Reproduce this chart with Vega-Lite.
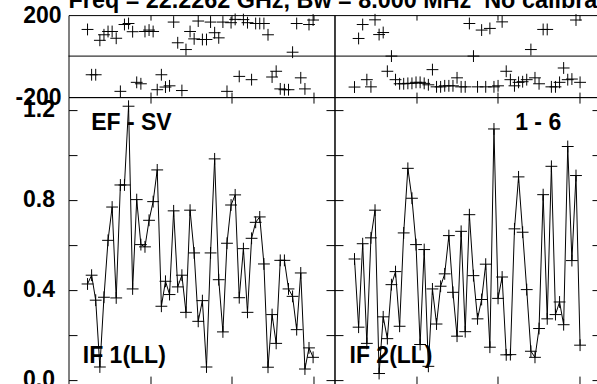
{
  "$schema": "https://vega.github.io/schema/vega-lite/v6.json",
  "padding": {"left": 13.5, "top": -10.9, "right": -131, "bottom": 0},
  "title": {"text": "Freq = 22.2262 GHz, Bw = 8.000 MHz\u00a0 No calibration applied", "anchor": "start", "frame": "group", "font": "Liberation Sans", "fontSize": 23.4, "fontWeight": "bold", "color": "black", "offset": -10},
  "data": {"values": [
    {"IF":"IF 1","t":0.233,"amp":0.425,"phase":130},
    {"IF":"IF 1","t":0.283,"amp":0.464,"phase":-91},
    {"IF":"IF 1","t":0.333,"amp":0.353,"phase":-91},
    {"IF":"IF 1","t":0.384,"amp":0.056,"phase":77},
    {"IF":"IF 1","t":0.434,"amp":0.366,"phase":104},
    {"IF":"IF 1","t":0.484,"amp":0.619,"phase":120},
    {"IF":"IF 1","t":0.534,"amp":0.767,"phase":120},
    {"IF":"IF 1","t":0.584,"amp":0.363,"phase":87},
    {"IF":"IF 1","t":0.635,"amp":0.865,"phase":-172},
    {"IF":"IF 1","t":0.685,"amp":0.865,"phase":154},
    {"IF":"IF 1","t":0.735,"amp":1.215,"phase":159},
    {"IF":"IF 1","t":0.785,"amp":0.403,"phase":119},
    {"IF":"IF 1","t":0.835,"amp":0.800,"phase":-128},
    {"IF":"IF 1","t":0.886,"amp":0.600,"phase":-135},
    {"IF":"IF 1","t":0.936,"amp":0.590,"phase":120},
    {"IF":"IF 1","t":0.986,"amp":0.708,"phase":127},
    {"IF":"IF 1","t":1.036,"amp":0.791,"phase":120},
    {"IF":"IF 1","t":1.086,"amp":0.932,"phase":-164},
    {"IF":"IF 1","t":1.137,"amp":0.326,"phase":-91},
    {"IF":"IF 1","t":1.187,"amp":0.437,"phase":-151},
    {"IF":"IF 1","t":1.237,"amp":0.378,"phase":-145},
    {"IF":"IF 1","t":1.287,"amp":0.750,"phase":166},
    {"IF":"IF 1","t":1.337,"amp":0.412,"phase":65},
    {"IF":"IF 1","t":1.388,"amp":0.464,"phase":-168},
    {"IF":"IF 1","t":1.438,"amp":0.299,"phase":32},
    {"IF":"IF 1","t":1.488,"amp":0.753,"phase":120},
    {"IF":"IF 1","t":1.538,"amp":0.563,"phase":84},
    {"IF":"IF 1","t":1.588,"amp":0.259,"phase":171},
    {"IF":"IF 1","t":1.639,"amp":0.351,"phase":81},
    {"IF":"IF 1","t":1.689,"amp":0.056,"phase":81},
    {"IF":"IF 1","t":1.739,"amp":0.563,"phase":166},
    {"IF":"IF 1","t":1.789,"amp":0.981,"phase":114},
    {"IF":"IF 1","t":1.839,"amp":0.444,"phase":89},
    {"IF":"IF 1","t":1.890,"amp":0.212,"phase":166},
    {"IF":"IF 1","t":1.940,"amp":0.606,"phase":-172},
    {"IF":"IF 1","t":1.990,"amp":0.776,"phase":163},
    {"IF":"IF 1","t":2.040,"amp":0.821,"phase":179},
    {"IF":"IF 1","t":2.090,"amp":0.364,"phase":-99},
    {"IF":"IF 1","t":2.141,"amp":0.582,"phase":178},
    {"IF":"IF 1","t":2.191,"amp":0.299,"phase":163},
    {"IF":"IF 1","t":2.241,"amp":0.628,"phase":-115},
    {"IF":"IF 1","t":2.291,"amp":0.699,"phase":159},
    {"IF":"IF 1","t":2.341,"amp":0.723,"phase":159},
    {"IF":"IF 1","t":2.392,"amp":0.514,"phase":159},
    {"IF":"IF 1","t":2.442,"amp":0.055,"phase":104},
    {"IF":"IF 1","t":2.492,"amp":0.289,"phase":-102},
    {"IF":"IF 1","t":2.542,"amp":0.161,"phase":-74},
    {"IF":"IF 1","t":2.592,"amp":0.530,"phase":-160},
    {"IF":"IF 1","t":2.643,"amp":0.530,"phase":-164},
    {"IF":"IF 1","t":2.693,"amp":0.403,"phase":-164},
    {"IF":"IF 1","t":2.743,"amp":0.370,"phase":19},
    {"IF":"IF 1","t":2.793,"amp":0.222,"phase":159},
    {"IF":"IF 1","t":2.843,"amp":0.474,"phase":-106},
    {"IF":"IF 1","t":2.894,"amp":0.047,"phase":-160},
    {"IF":"IF 1","t":2.944,"amp":0.141,"phase":154},
    {"IF":"IF 1","t":2.994,"amp":0.099,"phase":176},
    {"IF":"IF 2","t":0.245,"amp":0.536,"phase":-151},
    {"IF":"IF 2","t":0.295,"amp":0.233,"phase":86},
    {"IF":"IF 2","t":0.345,"amp":0.604,"phase":154},
    {"IF":"IF 2","t":0.396,"amp":0.161,"phase":-115},
    {"IF":"IF 2","t":0.446,"amp":0.630,"phase":-150},
    {"IF":"IF 2","t":0.496,"amp":0.753,"phase":177},
    {"IF":"IF 2","t":0.546,"amp":0.027,"phase":105},
    {"IF":"IF 2","t":0.596,"amp":0.279,"phase":115},
    {"IF":"IF 2","t":0.647,"amp":0.182,"phase":-74},
    {"IF":"IF 2","t":0.697,"amp":0.422,"phase":0},
    {"IF":"IF 2","t":0.747,"amp":0.480,"phase":-115},
    {"IF":"IF 2","t":0.797,"amp":0.237,"phase":-135},
    {"IF":"IF 2","t":0.847,"amp":0.652,"phase":-135},
    {"IF":"IF 2","t":0.898,"amp":0.939,"phase":-133},
    {"IF":"IF 2","t":0.948,"amp":0.806,"phase":-133},
    {"IF":"IF 2","t":0.998,"amp":0.600,"phase":-128},
    {"IF":"IF 2","t":1.048,"amp":0.156,"phase":-128},
    {"IF":"IF 2","t":1.098,"amp":0.578,"phase":-133},
    {"IF":"IF 2","t":1.149,"amp":0.059,"phase":-140},
    {"IF":"IF 2","t":1.199,"amp":0.403,"phase":-66},
    {"IF":"IF 2","t":1.249,"amp":0.247,"phase":-150},
    {"IF":"IF 2","t":1.299,"amp":0.415,"phase":-150},
    {"IF":"IF 2","t":1.349,"amp":0.470,"phase":-145},
    {"IF":"IF 2","t":1.400,"amp":0.640,"phase":-145},
    {"IF":"IF 2","t":1.450,"amp":0.388,"phase":-145},
    {"IF":"IF 2","t":1.500,"amp":0.193,"phase":-106},
    {"IF":"IF 2","t":1.550,"amp":0.659,"phase":-150},
    {"IF":"IF 2","t":1.600,"amp":0.213,"phase":-150},
    {"IF":"IF 2","t":1.651,"amp":0.733,"phase":159},
    {"IF":"IF 2","t":1.701,"amp":0.462,"phase":0},
    {"IF":"IF 2","t":1.751,"amp":0.270,"phase":-150},
    {"IF":"IF 2","t":1.801,"amp":0.356,"phase":127},
    {"IF":"IF 2","t":1.851,"amp":0.513,"phase":-150},
    {"IF":"IF 2","t":1.902,"amp":0.144,"phase":135},
    {"IF":"IF 2","t":1.952,"amp":1.114,"phase":-150},
    {"IF":"IF 2","t":2.002,"amp":0.361,"phase":-145},
    {"IF":"IF 2","t":2.052,"amp":0.456,"phase":167},
    {"IF":"IF 2","t":2.102,"amp":0.110,"phase":-74},
    {"IF":"IF 2","t":2.153,"amp":0.111,"phase":-115},
    {"IF":"IF 2","t":2.203,"amp":0.670,"phase":-145},
    {"IF":"IF 2","t":2.253,"amp":0.901,"phase":-128},
    {"IF":"IF 2","t":2.303,"amp":0.655,"phase":-125},
    {"IF":"IF 2","t":2.353,"amp":0.400,"phase":-115},
    {"IF":"IF 2","t":2.404,"amp":0.126,"phase":32},
    {"IF":"IF 2","t":2.454,"amp":0.099,"phase":-106},
    {"IF":"IF 2","t":2.504,"amp":0.227,"phase":-135},
    {"IF":"IF 2","t":2.554,"amp":0.822,"phase":130},
    {"IF":"IF 2","t":2.604,"amp":0.270,"phase":130},
    {"IF":"IF 2","t":2.655,"amp":0.948,"phase":-150},
    {"IF":"IF 2","t":2.705,"amp":0.289,"phase":-150},
    {"IF":"IF 2","t":2.755,"amp":0.345,"phase":-128},
    {"IF":"IF 2","t":2.805,"amp":0.244,"phase":-58},
    {"IF":"IF 2","t":2.855,"amp":1.036,"phase":-115},
    {"IF":"IF 2","t":2.906,"amp":0.529,"phase":-112},
    {"IF":"IF 2","t":2.956,"amp":0.907,"phase":176},
    {"IF":"IF 2","t":3.006,"amp":0.153,"phase":-128}
  ]},
  "columns": 2,
  "spacing": 0,
  "bounds": "flush",
  "concat": [
    {
      "width": 266, "height": 82,
      "layer": [
        {
          "transform": [{"filter": "datum.IF == 'IF 1'"}],
          "mark": {"type": "point", "shape": "M-1,0H1M0,-1V1", "size": 140, "filled": false, "color": "black", "strokeWidth": 1, "opacity": 1},
          "encoding": {
            "x": {"field": "t", "type": "quantitative", "scale": {"domain": [0, 3.256], "nice": false, "zero": false}, "axis": {"orient": "bottom", "values": [1, 2, 3], "labels": false, "tickSize": -5, "title": null}},
            "y": {"field": "phase", "type": "quantitative", "scale": {"domain": [-200, 200], "nice": false, "zero": false}, "axis": {"orient": "left", "values": [-200, 200], "ticks": false, "labelPadding": 7.5, "labelExpr": "datum.value > 0 ? '200' : '-200'", "title": null}}
          }
        },
        {
          "data": {"values": [{"ref": "zero"}]},
          "mark": {"type": "rule", "color": "black", "strokeWidth": 1},
          "encoding": {
            "x": {"datum": 0, "type": "quantitative", "axis": {"orient": "top", "values": [1, 2, 3], "labels": false, "tickSize": -5, "title": null}},
            "x2": {"datum": 3.256},
            "y": {"datum": 0, "type": "quantitative", "axis": null}
          }
        }
      ],
      "resolve": {"axis": {"x": "independent", "y": "independent"}}
    },
    {
      "width": 266, "height": 82,
      "layer": [
        {
          "transform": [{"filter": "datum.IF == 'IF 2'"}],
          "mark": {"type": "point", "shape": "M-1,0H1M0,-1V1", "size": 140, "filled": false, "color": "black", "strokeWidth": 1, "opacity": 1},
          "encoding": {
            "x": {"field": "t", "type": "quantitative", "scale": {"domain": [0, 3.256], "nice": false, "zero": false}, "axis": {"orient": "bottom", "values": [1, 2, 3], "labels": false, "tickSize": -5, "title": null}},
            "y": {"field": "phase", "type": "quantitative", "scale": {"domain": [-200, 200], "nice": false, "zero": false}, "axis": null}
          }
        },
        {
          "data": {"values": [{"ref": "zero"}]},
          "mark": {"type": "rule", "color": "black", "strokeWidth": 1},
          "encoding": {
            "x": {"datum": 0, "type": "quantitative", "axis": {"orient": "top", "values": [1, 2, 3], "labels": false, "tickSize": -5, "title": null}},
            "x2": {"datum": 3.256},
            "y": {"datum": 0, "type": "quantitative", "axis": null}
          }
        }
      ],
      "resolve": {"axis": {"x": "independent", "y": "independent"}}
    },
    {
      "width": 266, "height": 288,
      "layer": [
        {
          "transform": [{"filter": "datum.IF == 'IF 1'"}],
          "mark": {"type": "line", "color": "black", "strokeWidth": 1},
          "encoding": {
            "x": {"field": "t", "type": "quantitative", "scale": {"domain": [0, 3.256], "nice": false, "zero": false}, "axis": {"orient": "bottom", "values": [1, 2, 3], "labels": false, "tickSize": -9, "title": null}},
            "y": {"field": "amp", "type": "quantitative", "scale": {"domain": [-0.0244, 1.2556], "nice": false, "zero": false}, "axis": {"orient": "left", "values": [0, 0.2, 0.4, 0.6, 0.8, 1, 1.2], "tickSize": -8.5, "labelPadding": 22.5, "format": ".1f", "labelExpr": "datum.value == 0 || datum.value == 0.4 || datum.value == 0.8 || datum.value == 1.2 ? datum.label : ''", "title": null}}
          }
        },
        {
          "transform": [{"filter": "datum.IF == 'IF 1'"}],
          "mark": {"type": "point", "shape": "M-1,0H1M0,-1V1", "size": 140, "filled": false, "color": "black", "strokeWidth": 1, "opacity": 1},
          "encoding": {
            "x": {"field": "t", "type": "quantitative", "axis": {"orient": "top", "values": [1, 2, 3], "labels": false, "tickSize": -6, "title": null}},
            "y": {"field": "amp", "type": "quantitative", "axis": {"orient": "right", "values": [0, 0.2, 0.4, 0.6, 0.8, 1, 1.2], "labels": false, "tickSize": -8.5, "title": null}}
          }
        },
        {
          "data": {"values": [{"label": "EF - SV"}]},
          "mark": {"type": "text", "align": "left", "baseline": "alphabetic", "font": "Liberation Sans", "fontSize": 23, "fontWeight": "bold", "color": "black"},
          "encoding": {
            "text": {"field": "label"},
            "x": {"datum": 0.278, "type": "quantitative", "axis": null},
            "y": {"datum": 1.108, "type": "quantitative", "axis": null}
          }
        },
        {
          "data": {"values": [{"label": "IF 1(LL)"}]},
          "mark": {"type": "text", "align": "left", "baseline": "alphabetic", "font": "Liberation Sans", "fontSize": 23, "fontWeight": "bold", "color": "black"},
          "encoding": {
            "text": {"field": "label"},
            "x": {"datum": 0.175, "type": "quantitative", "axis": null},
            "y": {"datum": 0.074, "type": "quantitative", "axis": null}
          }
        }
      ],
      "resolve": {"axis": {"x": "independent", "y": "independent"}}
    },
    {
      "width": 266, "height": 288,
      "layer": [
        {
          "transform": [{"filter": "datum.IF == 'IF 2'"}],
          "mark": {"type": "line", "color": "black", "strokeWidth": 1},
          "encoding": {
            "x": {"field": "t", "type": "quantitative", "scale": {"domain": [0, 3.256], "nice": false, "zero": false}, "axis": {"orient": "bottom", "values": [1, 2, 3], "labels": false, "tickSize": -9, "title": null}},
            "y": {"field": "amp", "type": "quantitative", "scale": {"domain": [-0.0244, 1.2556], "nice": false, "zero": false}, "axis": {"orient": "left", "values": [0, 0.2, 0.4, 0.6, 0.8, 1, 1.2], "tickSize": -8.5, "labels": false, "title": null}}
          }
        },
        {
          "transform": [{"filter": "datum.IF == 'IF 2'"}],
          "mark": {"type": "point", "shape": "M-1,0H1M0,-1V1", "size": 140, "filled": false, "color": "black", "strokeWidth": 1, "opacity": 1},
          "encoding": {
            "x": {"field": "t", "type": "quantitative", "axis": {"orient": "top", "values": [1, 2, 3], "labels": false, "tickSize": -6, "title": null}},
            "y": {"field": "amp", "type": "quantitative", "axis": {"orient": "right", "values": [0, 0.2, 0.4, 0.6, 0.8, 1, 1.2], "labels": false, "tickSize": -8.5, "title": null}}
          }
        },
        {
          "data": {"values": [{"label": "1 - 6"}]},
          "mark": {"type": "text", "align": "right", "baseline": "alphabetic", "font": "Liberation Sans", "fontSize": 23, "fontWeight": "bold", "color": "black"},
          "encoding": {
            "text": {"field": "label"},
            "x": {"datum": 2.775, "type": "quantitative", "axis": null},
            "y": {"datum": 1.111, "type": "quantitative", "axis": null}
          }
        },
        {
          "data": {"values": [{"label": "IF 2(LL)"}]},
          "mark": {"type": "text", "align": "left", "baseline": "alphabetic", "font": "Liberation Sans", "fontSize": 23, "fontWeight": "bold", "color": "black"},
          "encoding": {
            "text": {"field": "label"},
            "x": {"datum": 0.184, "type": "quantitative", "axis": null},
            "y": {"datum": 0.074, "type": "quantitative", "axis": null}
          }
        }
      ],
      "resolve": {"axis": {"x": "independent", "y": "independent"}}
    }
  ],
  "config": {
    "font": "Liberation Sans",
    "view": {"stroke": "black", "strokeWidth": 1},
    "axis": {"domain": false, "grid": false, "tickColor": "black", "tickWidth": 1, "labelFont": "Liberation Sans", "labelFontSize": 23, "labelFontWeight": "bold", "labelColor": "black"}
  }
}
